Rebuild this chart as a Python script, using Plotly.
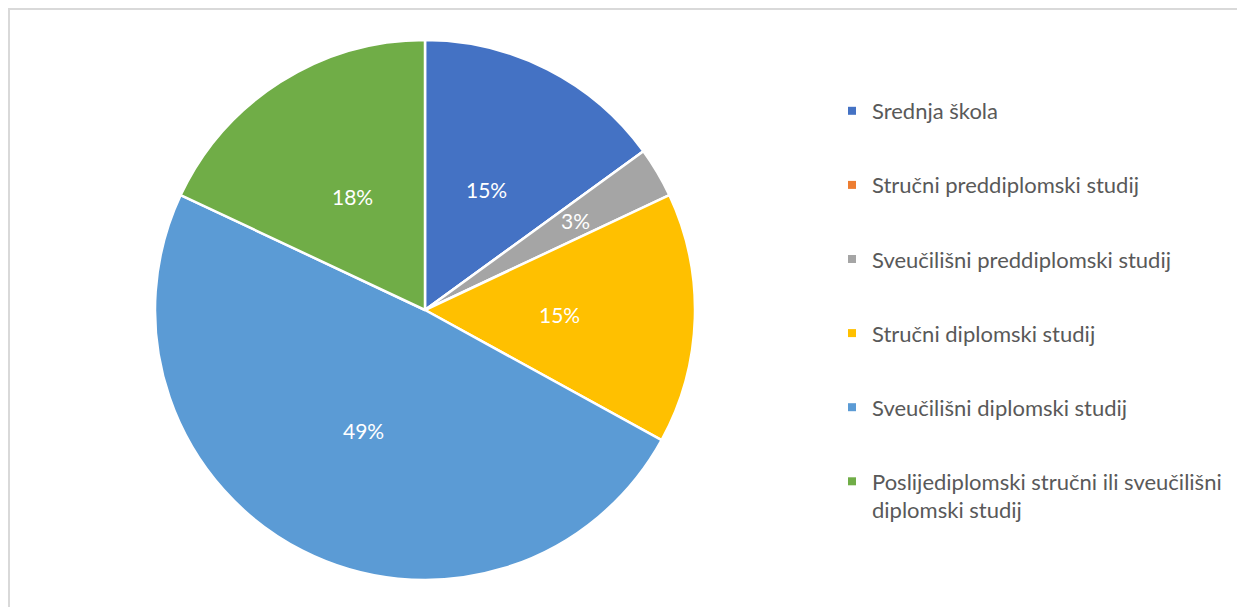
import math
import plotly.graph_objects as go

labels = ["Srednja škola", "Stručni preddiplomski studij", "Sveučilišni preddiplomski studij",
          "Stručni diplomski studij", "Sveučilišni diplomski studij",
          "Poslijediplomski stručni ili sveučilišni<br>diplomski studij"]
values = [15, 0, 3, 15, 49, 18]
colors = ["#4472C4", "#ED7D31", "#A5A5A5", "#FFC000", "#5B9BD5", "#70AD47"]

W, H = 1245, 607
FONT = "Lato"
# pie domain (pixels, figure coordinates)
PX0, PX1, PY0, PY1 = 147, 687, 32, 572
dom = dict(x=[PX0 / W, PX1 / W], y=[1 - PY1 / H, 1 - PY0 / H])

fig = go.Figure()
fig.add_trace(go.Pie(
    labels=labels, values=values, sort=False, direction="clockwise", rotation=0,
    marker=dict(colors=colors, line=dict(color="white", width=2.5)),
    textinfo="none", showlegend=False, hoverinfo="label+percent",
    domain=dom,
))

for i, (lab, col) in enumerate(zip(labels, colors)):
    fig.add_trace(go.Scatter(
        x=[None], y=[None], mode="markers", name=lab, legendgroup=str(i),
        marker=dict(symbol="square", size=8, color=col), showlegend=True,
    ))

# data labels placed along each slice's bisector, in axis units (pie radius = 1)
total = sum(values)
annotations = []
cum = 0
for v in values:
    if v > 0:
        half = v / total * math.pi
        th = (cum + v / 2) / total * 2 * math.pi
        r = max(0.5, 0.061 / math.sin(half))
        annotations.append(dict(
            x=r * math.sin(th), y=r * math.cos(th), xref="x", yref="y",
            text=f"{round(v / total * 100)}%", showarrow=False,
            font=dict(color="white", size=21, family=FONT)))
    cum += v

fig.update_layout(
    width=W, height=H, margin=dict(l=0, r=0, t=0, b=0),
    paper_bgcolor="white", plot_bgcolor="rgba(0,0,0,0)",
    xaxis=dict(visible=False, domain=dom["x"], range=[-1, 1], fixedrange=True),
    yaxis=dict(visible=False, domain=dom["y"], range=[-1, 1], fixedrange=True),
    annotations=annotations,
    legend=dict(x=824 / W, y=1 - 82 / H, xanchor="left", yanchor="top",
                font=dict(family=FONT, size=22, color="#595959"),
                tracegroupgap=42.5, valign="top", itemwidth=30,
                bgcolor="rgba(0,0,0,0)"),
    shapes=[dict(type="rect", xref="paper", yref="paper",
                 x0=1 / W, x1=1.02, y0=-0.02, y1=1 - 1 / H,
                 line=dict(color="#D9D9D9", width=2))],
)

fig.write_html("out.html")
